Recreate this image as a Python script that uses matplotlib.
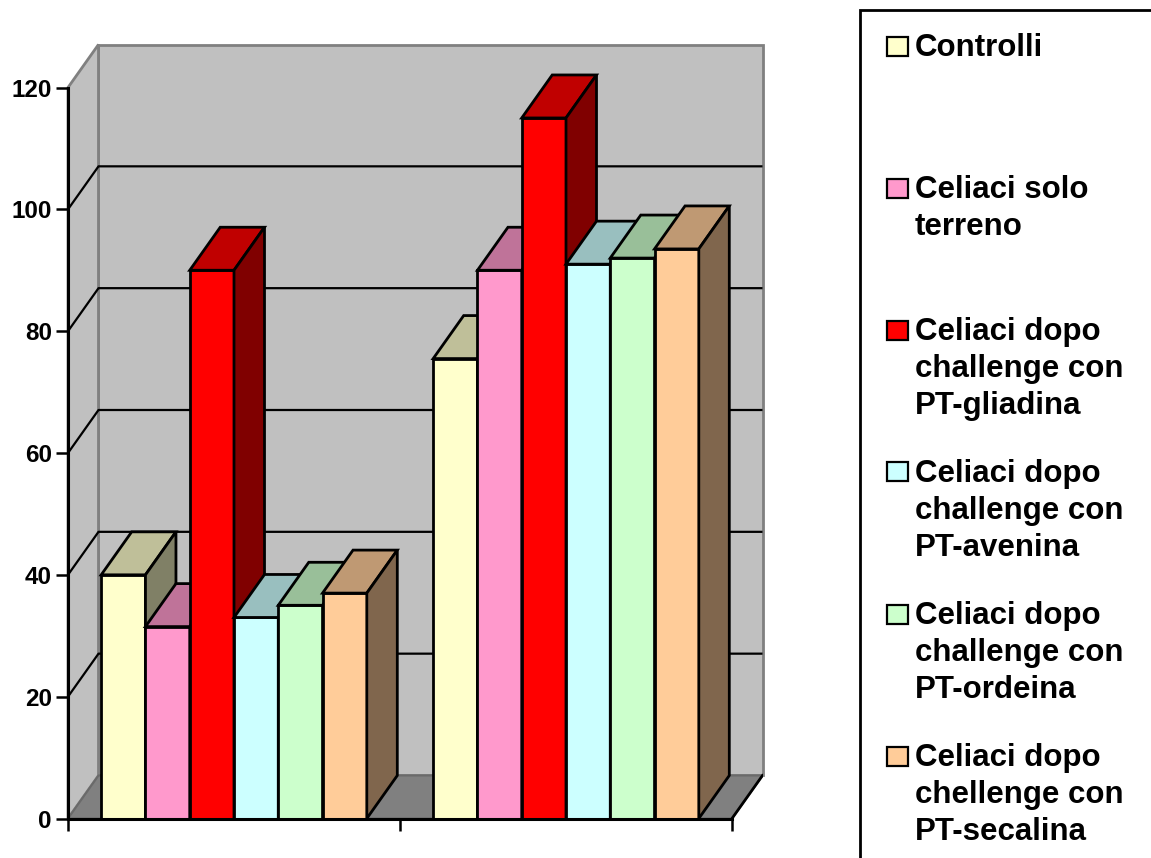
import matplotlib.pyplot as plt
from matplotlib.patches import Polygon, Rectangle

plt.rcParams['font.family'] = ['Liberation Sans', 'DejaVu Sans']

# legend labels, one per series
labels = [
    'Controlli',
    'Celiaci solo\nterreno',
    'Celiaci dopo\nchallenge con\nPT-gliadina',
    'Celiaci dopo\nchallenge con\nPT-avenina',
    'Celiaci dopo\nchallenge con\nPT-ordeina',
    'Celiaci dopo\nchellenge con\nPT-secalina',
]
# one value per series, first and second group
gruppo_1 = [40, 31.5, 90, 33, 35, 37]
gruppo_2 = [75.5, 90, 115, 91, 92, 93.5]
yticks = [0, 20, 40, 60, 80, 100, 120]

front = ['#FFFFCC', '#FF99CC', '#FF0000', '#CCFFFF', '#CCFFCC', '#FFCC99']
top = ['#BFBF99', '#BF7399', '#C00000', '#99BFBF', '#99BF99', '#BF9973']
side = ['#808066', '#804D66', '#800000', '#668080', '#668066', '#80664D']

W, H = 1151, 858
DX, DY = 0.689, 7.06          # depth offset of the 3d box, in data units
XMAX = 15.0
centers = [3.75, 11.25]
EDGE = 2.0

fig = plt.figure(figsize=(W / 100, H / 100), dpi=100)
ax = fig.add_axes([68 / W, 39.5 / H, (762.5 - 68) / W, 774 / H])
ax.set_xlim(0, XMAX + DX)
ax.set_ylim(0, 120 + DY)
ax.patch.set_visible(False)

# walls and floor
ax.add_patch(Rectangle((DX, DY), XMAX, 120, fc='#C0C0C0', ec='#808080',
                       lw=2.0, zorder=0.5, clip_on=False))
ax.add_patch(Polygon([(0, 0), (DX, DY), (DX, 120 + DY), (0, 120)],
                     fc='#C0C0C0', ec='#808080', lw=2.0, zorder=0.6,
                     clip_on=False))
ax.add_patch(Polygon([(0, 0), (XMAX, 0), (XMAX + DX, DY), (DX, DY)],
                     fc='#808080', ec='#6A6A6A', lw=1.5, zorder=0.7,
                     clip_on=False))
ax.plot([XMAX, XMAX + DX], [0, DY], color='black', lw=EDGE, zorder=0.8)
for v in yticks[1:-1]:
    ax.plot([0, DX, XMAX + DX], [v, v + DY, v + DY], color='black',
            lw=1.6, zorder=0.9, solid_capstyle='butt')

# bars: front faces from ax.bar, tops and sides as parallelograms
for i in range(len(labels)):
    vals = [gruppo_1[i], gruppo_2[i]]
    xs = [c + (i - 2.5) for c in centers]
    z = 3 + i
    ax.bar(xs, vals, width=1.0, color=front[i], edgecolor='black',
           linewidth=EDGE, zorder=z)
    for x, v in zip(xs, vals):
        l, r = x - 0.5, x + 0.5
        ax.add_patch(Polygon([(l, v), (r, v), (r + DX, v + DY), (l + DX, v + DY)],
                             fc=top[i], ec='black', lw=EDGE, zorder=z,
                             clip_on=False))
        ax.add_patch(Polygon([(r, 0), (r + DX, DY), (r + DX, v + DY), (r, v)],
                             fc=side[i], ec='black', lw=EDGE, zorder=z,
                             clip_on=False))

for s in ['top', 'right']:
    ax.spines[s].set_visible(False)
ax.spines['left'].set_bounds(0, 120)
ax.spines['bottom'].set_bounds(0, XMAX)
for s in ['left', 'bottom']:
    ax.spines[s].set_linewidth(2.2)
    ax.spines[s].set_zorder(10)

ax.set_xticks([0, XMAX / 2, XMAX])
ax.tick_params(axis='x', length=8.6, width=1.8, labelbottom=False)
ax.set_yticks(yticks)
ax.set_yticklabels([str(t) for t in yticks], fontsize=17.5, fontweight='bold')
ax.tick_params(axis='y', length=8.6, width=1.8, pad=3)

# legend box drawn in figure pixels
def fy(py):
    return 1 - py / H

fig.patches.append(Rectangle((860 / W, -0.05), 0.5, fy(10) + 0.05,
                             transform=fig.transFigure, fc='white',
                             ec='black', lw=2.0, zorder=1))
for k, lab in enumerate(labels):
    y0 = 46 + 142 * k
    fig.patches.append(Rectangle((887 / W, fy(y0 + 9.5)), 21 / W, 19 / H,
                                 transform=fig.transFigure, fc=front[k],
                                 ec='black', lw=1.6, zorder=2))
    for j, line in enumerate(lab.split('\n')):
        fig.text(915 / W, fy(y0 + 10 + 37 * j), line, fontsize=22.5,
                 fontweight='bold', ha='left', va='baseline')

fig.savefig('out.png', dpi=100)
